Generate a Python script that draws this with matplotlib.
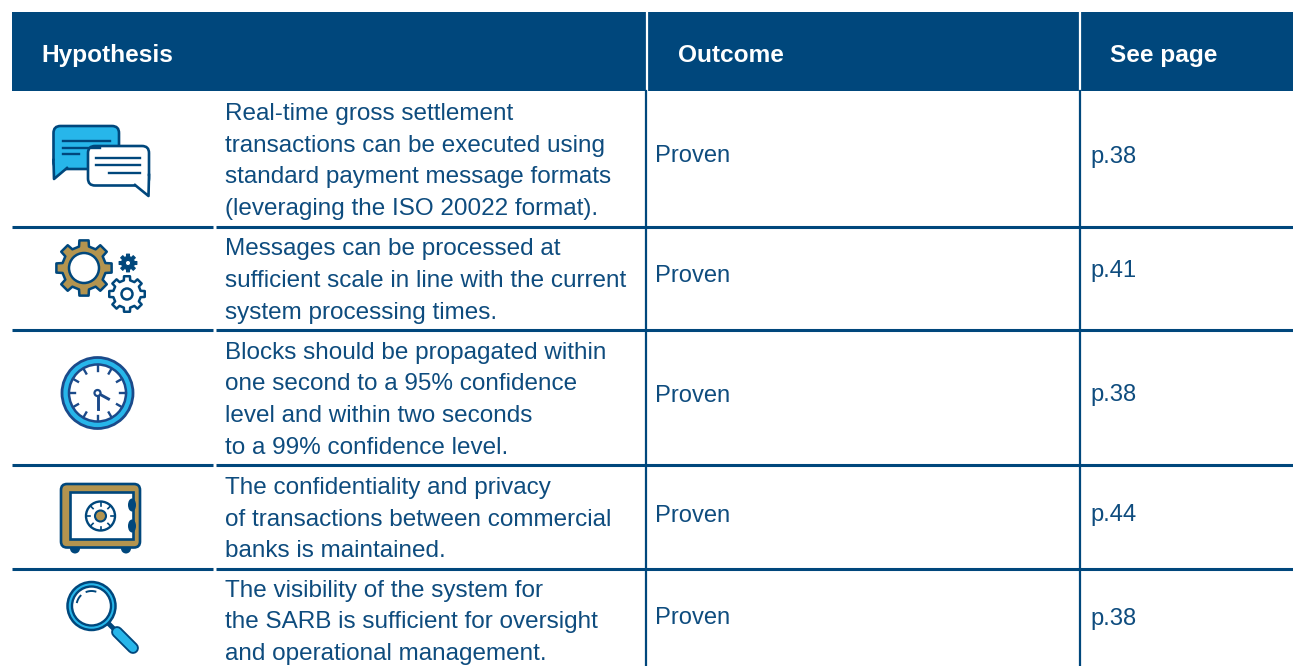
import numpy as np
import matplotlib
matplotlib.use("Agg")
import matplotlib.pyplot as plt
from matplotlib.patches import Circle, Ellipse, FancyBboxPatch, Polygon, Rectangle

NAVY = "#00477c"
CYAN = "#27b6ea"
GOLD = "#b3944f"
TEXT = "#0e4c7e"
CLOCK = "#1b4a8a"

headers = ["Hypothesis", "Outcome", "See page"]
hypotheses = [
    ["Real-time gross settlement", "transactions can be executed using",
     "standard payment message formats", "(leveraging the ISO 20022 format)."],
    ["Messages can be processed at", "sufficient scale in line with the current",
     "system processing times."],
    ["Blocks should be propagated within", "one second to a 95% confidence",
     "level and within two seconds", "to a 99% confidence level."],
    ["The confidentiality and privacy", "of transactions between commercial",
     "banks is maintained."],
    ["The visibility of the system for", "the SARB is sufficient for oversight",
     "and operational management."],
]
outcomes = ["Proven", "Proven", "Proven", "Proven", "Proven"]
pages = ["p.38", "p.41", "p.38", "p.44", "p.38"]

# layout in pixels
first_line = [111.5, 247, 350, 485.5, 588]
row_mid = [154, 274, 393, 513, 616]
page_mid = [154, 268, 393, 513, 616]
row_lines = [226.5, 329.5, 465, 568.5]
line_gap = 31.7

plt.rcParams["font.family"] = ["Liberation Sans", "DejaVu Sans"]
fig = plt.figure(figsize=(12.93, 6.66), dpi=100)
ax = fig.add_axes([0, 0, 1, 1])
ax.set_xlim(0, 1293)
ax.set_ylim(666, 0)
ax.axis("off")

FS = 17.1

# header
ax.add_patch(Rectangle((12, 12), 1281, 79, fc=NAVY, ec="none"))
ax.plot([646.5, 646.5], [12, 91], color="white", lw=1.6)
ax.plot([1079.5, 1079.5], [12, 91], color="white", lw=1.6)
for h, x in zip(headers, [41, 678, 1110]):
    ax.text(x, 53, h, color="white", fontsize=17.6, fontweight="bold", va="center_baseline")

# grid
ax.plot([646, 646], [91, 666], color=NAVY, lw=1.6)
ax.plot([1080, 1080], [91, 666], color=NAVY, lw=1.6)
for y in row_lines:
    ax.plot([12, 213], [y, y], color=NAVY, lw=2.2, solid_capstyle="butt")
    ax.plot([216, 1293], [y, y], color=NAVY, lw=2.2, solid_capstyle="butt")

# text
for lines, y0, mid, pmid, o, p in zip(hypotheses, first_line, row_mid, page_mid, outcomes, pages):
    for i, s in enumerate(lines):
        ax.text(225, y0 + i * line_gap, s, color=TEXT, fontsize=17.5, va="center_baseline")
    ax.text(655, mid, o, color=TEXT, fontsize=FS, va="center_baseline")
    ax.text(1090.5, pmid, p, color=TEXT, fontsize=FS, va="center_baseline")


def gear(cx, cy, r_out, r_in, teeth, fc, ec, lw, hole=None, hole_fc="white"):
    pts = []
    step = 2 * np.pi / teeth
    for k in range(teeth):
        a = k * step
        for da, r in [(-0.29, r_in), (-0.21, r_out), (0.21, r_out), (0.29, r_in)]:
            pts.append((cx + r * np.cos(a + da * step), cy + r * np.sin(a + da * step)))
    ax.add_patch(Polygon(pts, closed=True, fc=fc, ec=ec, lw=lw, joinstyle="round", zorder=3))
    if hole:
        ax.add_patch(Circle((cx, cy), hole, fc=hole_fc, ec=ec, lw=lw, zorder=4))


def bubble(x0, y0, x1, y1, fc, tail):
    ax.add_patch(FancyBboxPatch((x0 + 7, y0 + 7), x1 - x0 - 14, y1 - y0 - 14,
                                boxstyle="round,pad=7", fc=fc, ec=NAVY, lw=1.9, zorder=3))
    ax.add_patch(Polygon(tail, closed=True, fc=fc, ec="none", zorder=4))
    ax.plot([tail[0][0], tail[1][0], tail[2][0]], [tail[0][1], tail[1][1], tail[2][1]],
            color=NAVY, lw=1.9, zorder=5, solid_joinstyle="round")


# chat icon
bubble(53.5, 126, 119, 169, CYAN, [(53.5, 160), (54, 179), (67, 168)])
for x0, x1, y in [(63, 110, 141), (63, 100, 147.5), (63, 79, 153.5)]:
    ax.plot([x0, x1], [y, y], color=NAVY, lw=1.7, zorder=4)
bubble(88, 146, 149, 185.5, "white", [(135, 185), (148.5, 196), (149, 175)])
for x0, x1, y in [(96, 140, 157.5), (96, 140, 165), (109, 140, 172.5)]:
    ax.plot([x0, x1], [y, y], color=NAVY, lw=1.7, zorder=6)

# gears icon
gear(84, 268, 28, 22, 8, GOLD, NAVY, 1.8, hole=15)
gear(128, 263, 9, 6.5, 8, NAVY, NAVY, 0.8, hole=2.6, hole_fc="white")
gear(127, 294, 18, 14, 8, "white", NAVY, 1.8, hole=5.5)

# clock icon
cx, cy = 97.5, 393
ax.add_patch(Circle((cx, cy), 35.5, fc=CYAN, ec=CLOCK, lw=2, zorder=3))
ax.add_patch(Circle((cx, cy), 28.5, fc="white", ec=CLOCK, lw=1.8, zorder=4))
for k in range(12):
    a = k * np.pi / 6
    ax.plot([cx + 22.5 * np.cos(a), cx + 28 * np.cos(a)], [cy + 22.5 * np.sin(a), cy + 28 * np.sin(a)],
            color=CLOCK, lw=1.7, zorder=5)
ax.plot([cx, cx], [cy, cy + 16], color=CLOCK, lw=2.1, zorder=5)
ax.plot([cx, cx + 11], [cy, cy + 6], color=CLOCK, lw=2.1, zorder=5)
ax.add_patch(Circle((cx, cy), 3, fc="white", ec=CLOCK, lw=1.6, zorder=6))

# safe icon
for x in [75, 126]:
    ax.add_patch(Circle((x, 548.5), 5, fc=NAVY, ec="none", zorder=2))
ax.add_patch(FancyBboxPatch((67, 490), 67, 51.5, boxstyle="round,pad=6", fc=GOLD, ec=NAVY, lw=1.9, zorder=3))
ax.add_patch(Rectangle((69.5, 492), 63, 47, fc="white", ec=NAVY, lw=1.9, zorder=4))
ax.add_patch(Circle((100.5, 516), 14.5, fc="white", ec=NAVY, lw=1.7, zorder=5))
ax.add_patch(Circle((100.5, 516), 5.5, fc=GOLD, ec=NAVY, lw=1.5, zorder=6))
for k in range(8):
    a = k * np.pi / 4
    ax.plot([100.5 + 10.5 * np.cos(a), 100.5 + 14 * np.cos(a)], [516 + 10.5 * np.sin(a), 516 + 14 * np.sin(a)],
            color=NAVY, lw=1.2, zorder=6)
for y in [505, 526]:
    ax.add_patch(Ellipse((132, y), 8, 13, fc=NAVY, ec="none", zorder=6))

# magnifier icon
mx, my = 91.5, 606
ax.plot([108, 116], [623, 631], color=NAVY, lw=3.5, zorder=2)
ax.plot([117, 133], [632, 648], color=NAVY, lw=8.5, solid_capstyle="round", zorder=3)
ax.plot([117, 133], [632, 648], color=CYAN, lw=5.8, solid_capstyle="round", zorder=4)
ax.add_patch(Circle((mx, my), 24, fc=CYAN, ec=NAVY, lw=1.8, zorder=4))
ax.add_patch(Circle((mx, my), 19.5, fc="white", ec=NAVY, lw=1.7, zorder=5))
t = np.radians(np.linspace(195, 285, 30))
ax.plot(mx + 15 * np.cos(t[18:]), my + 15 * np.sin(t[18:]), color=NAVY, lw=1.4, zorder=6)
ax.plot(mx + 15 * np.cos(t[:10]), my + 15 * np.sin(t[:10]), color=NAVY, lw=1.4, zorder=6)

fig.savefig("out.png", dpi=100)
